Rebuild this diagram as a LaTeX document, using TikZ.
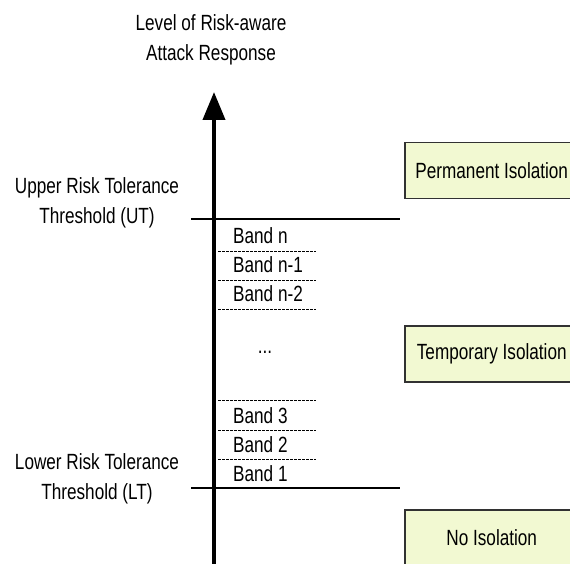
\documentclass[tikz,border=0pt]{standalone}
\usepackage{fontspec}
\setmainfont{Liberation Sans}[FakeStretch=0.78]
\usetikzlibrary{arrows.meta}
\definecolor{boxfill}{RGB}{242,249,210}
\definecolor{boxline}{RGB}{50,50,50}
\begin{document}
\begin{tikzpicture}[x=1pt,y=-1pt, font=\fontsize{22}{30}\selectfont,
  lbl/.style={inner sep=0pt, align=center},
  bandlbl/.style={inner sep=0pt, anchor=west},
  respbox/.style={draw=boxline, line width=1.5pt, fill=boxfill, minimum width=174pt, minimum height=56pt, anchor=north west, inner sep=0pt},
  thresh/.style={line width=2pt},
  bandsep/.style={line width=0.8pt, dash pattern=on 2.5pt off 1.5pt},
  axisline/.style={line width=4pt, -{Triangle[width=22pt,length=28pt]}}]
\useasboundingbox (0,0) rectangle (570,564);
\clip (0,0) rectangle (570,564);
% title
\node[lbl] (title) at (211,40) {Level of Risk-aware\\Attack Response};
% axis
\coordinate (axbot) at (214,570);
\coordinate (axtop) at (214,92);
\draw[axisline] (axbot) -- (axtop);
% thresholds
\coordinate (utl) at (191,219); \coordinate (utr) at (400,219);
\coordinate (ltl) at (191,488); \coordinate (ltr) at (400,488);
\draw[thresh] (utl) -- (utr);
\draw[thresh] (ltl) -- (ltr);
\node[lbl] (ut) at (97,203) {Upper Risk Tolerance\\Threshold (UT)};
\node[lbl] (lt) at (97,479) {Lower Risk Tolerance\\Threshold (LT)};
% band separators
\foreach \yy/\nm in {251/a,280/b,309/c,400/d,430/e,459/f}{
  \coordinate (s\nm l) at (218,\yy); \coordinate (s\nm r) at (316,\yy);
  \draw[bandsep] (s\nm l) -- (s\nm r);
}
% band labels
\node[bandlbl] (bn) at (233,236) {Band n};
\node[bandlbl] (bn1) at (233,265) {Band n-1};
\node[bandlbl] (bn2) at (233,294) {Band n-2};
\node[inner sep=0pt] (dots) at (265,352) {...};
\node[bandlbl] (b3) at (233,416) {Band 3};
\node[bandlbl] (b2) at (233,445) {Band 2};
\node[bandlbl] (b1) at (233,474) {Band 1};
% response boxes
\node[respbox] (perm) at (404,142) {Permanent Isolation};
\node[respbox] (temp) at (404,325) {Temporary Isolation};
\node[respbox] (none) at (404,509) {No Isolation};
\end{tikzpicture}
\end{document}
